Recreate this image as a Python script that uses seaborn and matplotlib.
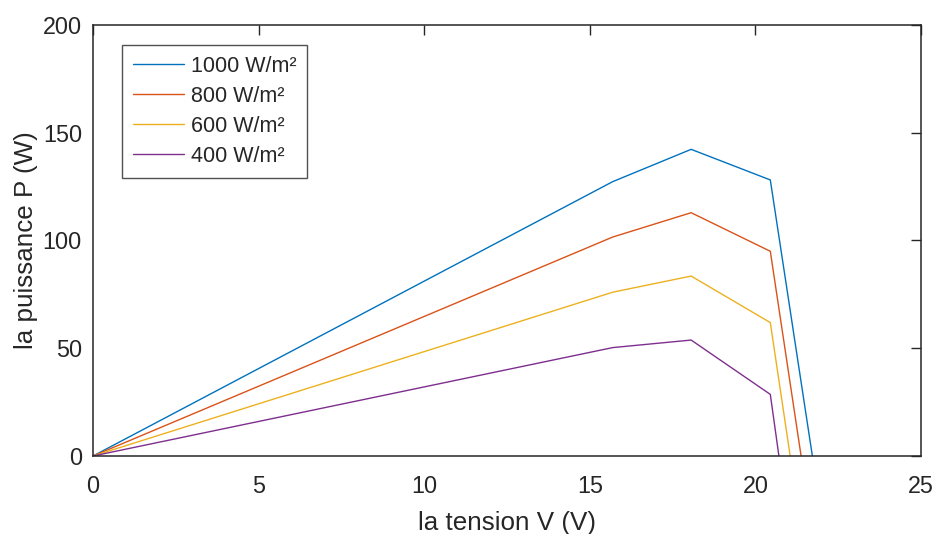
import numpy as np
import pandas as pd
import matplotlib
matplotlib.use("Agg")
import matplotlib.pyplot as plt
import seaborn as sns

# Data
labels = ["1000 W/m²", "800 W/m²", "600 W/m²", "400 W/m²"]
v_1000 = [0, 15.69, 18.06, 20.45, 21.72]
p_1000 = [0, 127.3, 142.3, 128.1, 0]
v_800 = [0, 15.69, 18.06, 20.45, 21.38]
p_800 = [0, 101.6, 112.9, 95.0, 0]
v_600 = [0, 15.69, 18.06, 20.45, 21.05]
p_600 = [0, 76.0, 83.5, 61.9, 0]
v_400 = [0, 15.69, 18.06, 20.45, 20.71]
p_400 = [0, 50.3, 53.8, 28.6, 0]
colors = ["#0072BD", "#D95319", "#EDB120", "#7E2F8E"]

frames = []
for lab, v, p in zip(labels, [v_1000, v_800, v_600, v_400], [p_1000, p_800, p_600, p_400]):
    frames.append(pd.DataFrame({"V": v, "P": p, "irr": lab}))
df = pd.concat(frames, ignore_index=True)

sns.set_style("white")
plt.rcParams["font.family"] = ["Liberation Sans", "DejaVu Sans"]

fig = plt.figure(figsize=(9.38, 5.34), dpi=100)
ax = fig.add_axes([93 / 938, 1 - 456 / 534, (921 - 93) / 938, (456 - 25) / 534])

sns.lineplot(data=df, x="V", y="P", hue="irr", palette=colors, sort=False,
             estimator=None, linewidth=1.0, ax=ax)

ax.set_xlim(0, 25)
ax.set_ylim(0, 200)
ax.set_xticks([0, 5, 10, 15, 20, 25])
ax.set_yticks([0, 50, 100, 150, 200])
ax.tick_params(direction="in", length=7, width=1.0, labelsize=16.8, colors="#262626",
               top=True, right=True, labelcolor="#262626")
ax.tick_params(axis="x", pad=14)
ax.tick_params(axis="y", pad=8)
for s in ax.spines.values():
    s.set_color("#262626")
    s.set_linewidth(1.1)
ax.set_xlabel("la tension V (V)", fontsize=18.7, color="#262626", labelpad=9)
ax.set_ylabel("la puissance P (W)", fontsize=18.7, color="#262626", labelpad=3)

leg = ax.legend(loc="upper left", bbox_to_anchor=(0.035, 0.9536), borderaxespad=0,
                fontsize=15.5, frameon=True, fancybox=False, edgecolor="#262626",
                handlelength=2.4, borderpad=0.5, labelspacing=0.42, handletextpad=0.3)
leg.get_frame().set_linewidth(1.0)
leg.set_title(None)

fig.savefig("out.png", dpi=100)
